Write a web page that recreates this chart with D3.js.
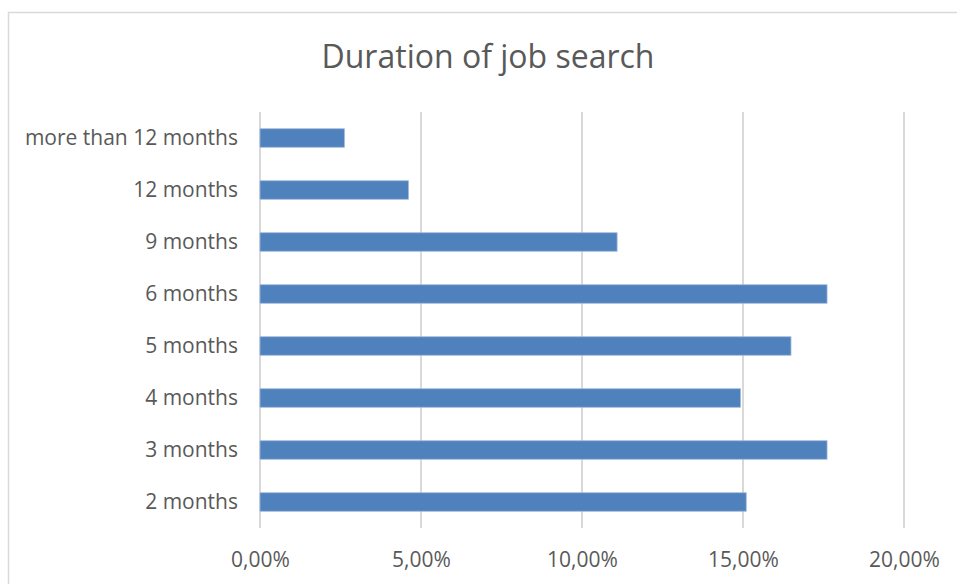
<!DOCTYPE html>
<html>
<head>
<meta charset="utf-8">
<script src="https://cdn.jsdelivr.net/npm/d3@7"></script>
<style>
  html, body { margin: 0; padding: 0; background: #ffffff; }
  svg { display: block; }
</style>
</head>
<body>
<svg id="chart" width="957" height="584"></svg>
<script>
// Data (top to bottom)
const categories = ["more than 12 months", "12 months", "9 months", "6 months", "5 months", "4 months", "3 months", "2 months"];
const values = [2.62, 4.61, 11.09, 17.61, 16.49, 14.92, 17.61, 15.10];
const xTicks = [0, 5, 10, 15, 20];
const xTickLabels = ["0,00%", "5,00%", "10,00%", "15,00%", "20,00%"];
const chartTitle = "Duration of job search";

const svg = d3.select("#chart");
const font = "'Open Sans', 'Noto Sans', sans-serif";
const textColor = "#595959";

// Chart border (extends past right/bottom edge)
svg.append("rect")
  .attr("x", 8.5).attr("y", 12.5)
  .attr("width", 1000).attr("height", 700)
  .attr("fill", "#ffffff")
  .attr("stroke", "#d9d9d9")
  .attr("stroke-width", 1.5);

const plot = { left: 260, right: 904, top: 112, bottom: 528 };

const x = d3.scaleLinear().domain([0, 20]).range([plot.left, plot.right]);
const y = d3.scaleBand().domain(categories).range([plot.top, plot.bottom])
  .paddingInner(0.645).paddingOuter(0.3225);

// Title
svg.append("text")
  .attr("x", 488).attr("y", 67.5)
  .attr("text-anchor", "middle")
  .attr("font-family", font)
  .attr("font-size", 32)
  .attr("fill", textColor)
  .text(chartTitle);

// Gridlines
svg.append("g").selectAll("line")
  .data(xTicks)
  .join("line")
  .attr("x1", d => x(d)).attr("x2", d => x(d))
  .attr("y1", plot.top).attr("y2", plot.bottom)
  .attr("stroke", "#d9d9d9")
  .attr("stroke-width", 2);

// Bars
svg.append("g").selectAll("rect")
  .data(categories)
  .join("rect")
  .attr("x", x(0))
  .attr("y", d => y(d))
  .attr("width", (d, i) => x(values[i]) - x(0))
  .attr("height", y.bandwidth())
  .attr("fill", "#4f81bd")
  .attr("stroke", "#9db7da")
  .attr("stroke-width", 0.8);

// X axis
const xAxis = d3.axisBottom(x)
  .tickValues(xTicks)
  .tickSize(0)
  .tickPadding(24)
  .tickFormat((d, i) => xTickLabels[i]);
const gx = svg.append("g").attr("transform", `translate(0,${plot.bottom})`).call(xAxis);
gx.select(".domain").remove();
gx.selectAll("text")
  .attr("font-family", font)
  .attr("font-size", 21)
  .attr("fill", textColor);

// Y axis
const yAxis = d3.axisLeft(y).tickSize(0).tickPadding(22);
const gy = svg.append("g").attr("transform", `translate(${plot.left},0)`).call(yAxis);
gy.select(".domain").remove();
gy.selectAll("text")
  .attr("font-family", font)
  .attr("font-size", 21)
  .attr("fill", textColor);
</script>
</body>
</html>
